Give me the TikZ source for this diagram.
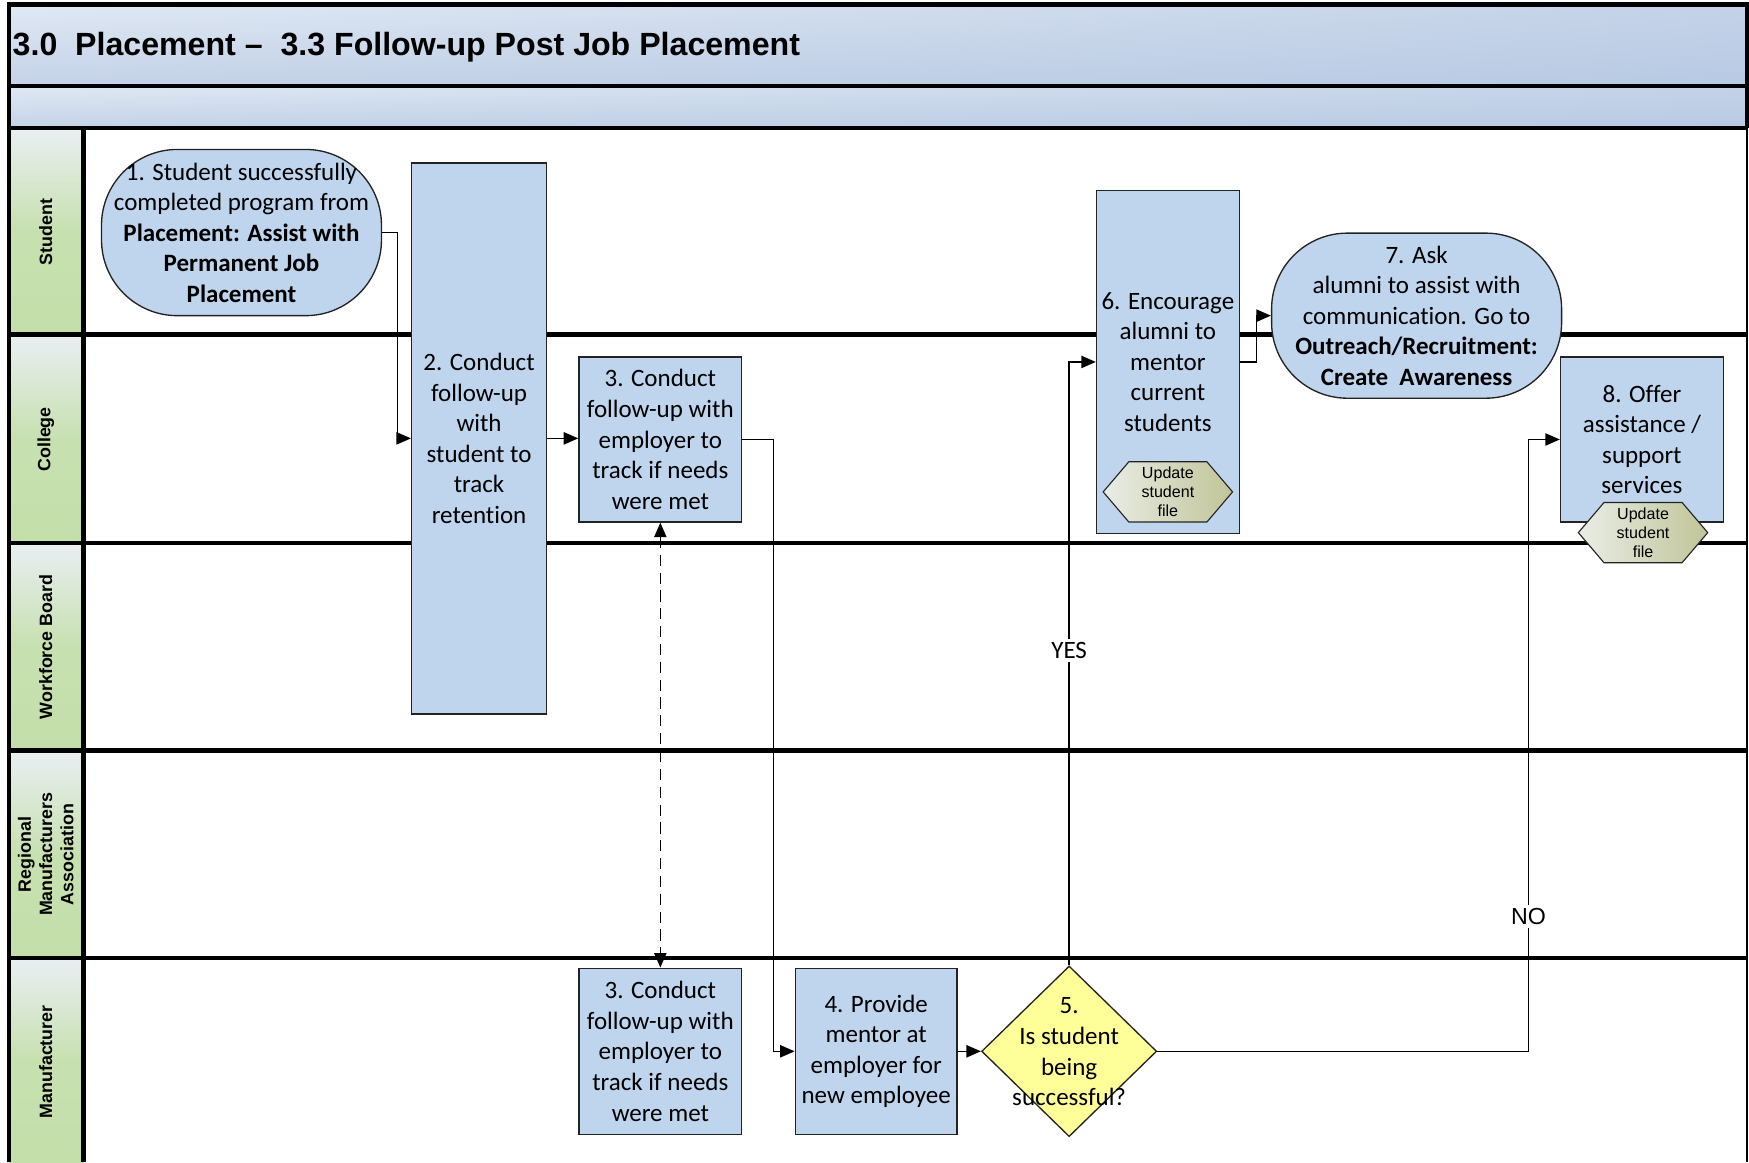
\documentclass[tikz,border=0pt]{standalone}
\usepackage{fontspec}
\setmainfont[Ligatures=NoCommon]{Carlito}
\newfontfamily\arialfont{Liberation Sans}
\usetikzlibrary{arrows.meta,shapes.geometric,calc,shadings}

\definecolor{boxblue}{RGB}{190,213,237}
\definecolor{bandlight}{RGB}{224,233,244}
\definecolor{bandmid}{RGB}{196,210,232}
\definecolor{banddark}{RGB}{183,202,227}
\definecolor{lanegreen}{RGB}{196,223,170}
\definecolor{lanelight}{RGB}{233,239,242}
\definecolor{decyellow}{RGB}{255,255,153}
\definecolor{hexlight}{RGB}{234,237,230}
\definecolor{hexdark}{RGB}{192,197,152}
\definecolor{edgegray}{RGB}{35,35,35}

\newcommand\procfont{\fontsize{11.2}{13.7}\selectfont}
\newcommand\lanefont{\arialfont\bfseries\fontsize{8}{9.5}\selectfont}
\newcommand\hexfont{\arialfont\fontsize{7.2}{8.5}\selectfont}

% elongated hexagon with its "Update student file" caption
\newcommand\filehex[2]{%
  \path[hexshape] ($(#2)+(-58,0)$) -- ++(23,-27) -- ++(70,0) -- ++(23,27)
     -- ++(-23,27) -- ++(-70,0) -- cycle;
  \node[hextext] (#1) at (#2) {Update\\student\\file};
}

\begin{document}
\begin{tikzpicture}[x=0.5pt,y=-0.5pt,
  lanerule/.style={line width=2pt, black},
  proc/.style={draw=edgegray, line width=0.6pt, fill=boxblue, align=center,
    inner sep=0pt, font=\procfont},
  term/.style={proc, rounded corners=34pt},
  decision/.style={draw=edgegray, line width=0.6pt, fill=decyellow, diamond,
    inner sep=0pt},
  plain/.style={align=center, inner sep=0pt, font=\procfont},
  hexshape/.style={draw=edgegray, line width=0.5pt, left color=hexlight,
    right color=hexdark},
  hextext/.style={align=center, inner sep=0pt, font=\hexfont},
  lanelabel/.style={rotate=90, align=center, inner sep=0pt, font=\lanefont},
  conn/.style={line width=0.65pt, -{Triangle[length=6.5pt,width=5.5pt]}},
  both/.style={line width=0.65pt, dash pattern=on 5pt off 3pt,
    {Triangle[length=6.5pt,width=5.5pt]}-{Triangle[length=6.5pt,width=5.5pt]}},
  flowlabel/.style={fill=white, inner sep=1.5pt, font=\procfont},
]

% page
\path[fill=white] (0,0) rectangle (1568,1042);
\useasboundingbox (0,0) rectangle (1568,1042);

% title bands
\shade[upper left=bandlight, lower left=bandmid, upper right=bandmid,
  lower right=banddark] (8,4) rectangle (1566,77);
\shade[upper left=bandlight, lower left=bandmid, upper right=bandmid,
  lower right=banddark] (8,77) rectangle (1566,115);
\node[anchor=base west, inner sep=0pt,
  font=\arialfont\bfseries\fontsize{14.4}{16}\selectfont] (title) at (11,49.5)
  {3.0\ \ Placement –\ \ 3.3 Follow-up Post Job Placement};

% lane headers
\foreach \ya/\yb in {115/300, 300/487, 487/673, 673/859, 859/1042}{
  \shade[top color=lanelight, bottom color=lanegreen,
    middle color=lanegreen!92!lanelight] (8,\ya) rectangle (75,\yb);
}
\node[lanelabel] (lstudent) at (41,208) {Student};
\node[lanelabel] (lcollege) at (41,394) {College};
\node[lanelabel] (lboard) at (41,580) {Workforce Board};
\node[lanelabel] (lrma) at (41,766) {Regional\\Manufacturers\\Association};
\node[lanelabel] (lmanu) at (41,952) {Manufacturer};

% frame and lane rules
\draw[line width=0.7pt] (1566,115) -- (1566,1042);
\draw[lanerule] (8,1042) -- (8,4) -- (1566,4) -- (1566,115);
\foreach \y in {77,115,300,487,673,859}{
  \draw[lanerule] (8,\y) -- (1566,\y);
}
\draw[lanerule] (75,115) -- (75,1042);

% process steps
\node[term, minimum width=125.5pt, minimum height=74.5pt] (n1) at (216.5,208.5)
  {1. Student successfully\\completed program from\\\textbf{Placement: Assist with}\\
   \textbf{Permanent Job}\\\textbf{Placement}};
\node[proc, minimum width=60.5pt, minimum height=247pt] (n2) at (429.5,393)
  {2. Conduct\\follow-up\\with\\student to\\track\\retention};
\node[proc, minimum width=73pt, minimum height=74pt] (n3) at (592,394)
  {3. Conduct\\follow-up with\\employer to\\track if needs\\were met};
\node[proc, minimum width=73pt, minimum height=74.5pt] (n3b) at (592,942.5)
  {3. Conduct\\follow-up with\\employer to\\track if needs\\were met};
\node[proc, minimum width=72.5pt, minimum height=74.5pt] (n4) at (785.5,942.5)
  {4. Provide\\mentor at\\employer for\\new employee};
\node[decision, minimum width=78.5pt, minimum height=76.5pt] (dec) at (958.5,942.5) {};
\node[plain] (dectext) at (958.5,943) {5.\\Is student\\being\\successful?};
\node[proc, minimum width=64pt, minimum height=153.5pt] (n6) at (1047,324.5)
  {6. Encourage\\alumni to\\mentor\\current\\students};
\filehex{hex6}{1047,441}
\node[term, minimum width=130pt, minimum height=74pt] (n7) at (1270,283)
  {7. Ask\\alumni to assist with\\communication. Go to\\
   \textbf{Outreach/Recruitment:}\\\textbf{Create\ \ Awareness}};
\node[proc, minimum width=73pt, minimum height=74pt] (n8) at (1472,394)
  {8. Offer\\assistance /\\support\\services};
\filehex{hex8}{1473,477.5}

% connectors
\draw[conn] (n1.east) -- ++(14,0) |- (n2.west);
\draw[conn] (n2.east) -- (n2.east -| n3.west);
\draw[conn] (n3.east) -- ++(28,0) |- (n4.west);
\draw[both] (n3.south) -- (n3b.north);
\draw[conn] (n4.east) -- (dec.west);
\draw[conn] (dec.north) |- node[flowlabel, pos=0.261] {YES} (n6.west);
\draw[conn] (n6.east) -- ++(15,0) |- (n7.west);
\draw[conn] (dec.east) -| node[flowlabel, pos=0.61,
  font=\arialfont\fontsize{10.4}{12}\selectfont] {NO} ($(n8.west)+(-28,0)$)
  -- (n8.west);

\end{tikzpicture}
\end{document}
